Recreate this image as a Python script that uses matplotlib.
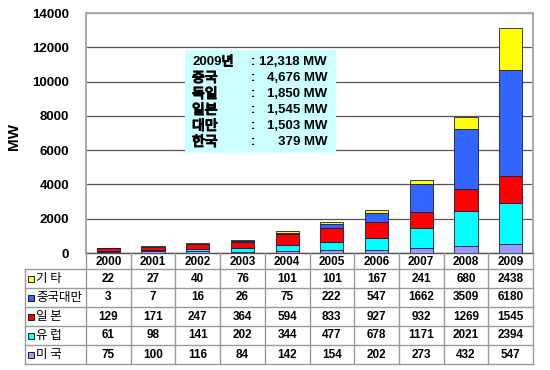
import matplotlib
matplotlib.use("Agg")
import matplotlib.pyplot as plt
import matplotlib.patheffects as pe
from matplotlib.lines import Line2D
from matplotlib.patches import Rectangle
from matplotlib.transforms import blended_transform_factory
import numpy as np

plt.rcParams['font.family'] = ['Liberation Sans', 'Noto Sans CJK KR', 'DejaVu Sans']

years = ['2000', '2001', '2002', '2003', '2004', '2005', '2006', '2007', '2008', '2009']
# stacking order: bottom -> top
series_names = ['미 국', '유 럽', '일 본', '중국대만', '기 타']
usa = [75, 100, 116, 84, 142, 154, 202, 273, 432, 547]
europe = [61, 98, 141, 202, 344, 477, 678, 1171, 2021, 2394]
japan = [129, 171, 247, 364, 594, 833, 927, 932, 1269, 1545]
china_taiwan = [3, 7, 16, 26, 75, 222, 547, 1662, 3509, 6180]
others = [22, 27, 40, 76, 101, 101, 167, 241, 680, 2438]
series_values = [usa, europe, japan, china_taiwan, others]
series_colors = ['#9999FF', '#00FFFF', '#FF0000', '#3366FF', '#FFFF00']

box_year = '2009'
box_labels = ['중국', '독일', '일본', '대만', '한국']
box_values = ['12,318', '4,676', '1,850', '1,545', '1,503', '379']

W, H = 550, 370
fig = plt.figure(figsize=(W / 100, H / 100), dpi=100)
fx = lambda px: px / W
fy = lambda py: 1 - py / H

ax = fig.add_axes([fx(86), fy(253), fx(533) - fx(86), fy(13) - fy(253)])
x = np.arange(len(years))
bottom = np.zeros(len(years))
for vals, col in zip(series_values, series_colors):
    ax.bar(x, vals, width=0.52, bottom=bottom, color=col, edgecolor='#1a1a40',
           linewidth=0.6, zorder=3)
    bottom += np.array(vals)

ax.set_xlim(-0.5, len(years) - 0.5)
ax.set_ylim(0, 14000)
ax.set_yticks(np.arange(0, 14001, 2000))
ax.set_yticklabels([str(v) for v in range(0, 14001, 2000)], fontsize=9.5, fontweight='bold')
ax.tick_params(axis='y', length=0, pad=12)
ax.set_xticks([])
ax.set_axisbelow(True)
ax.yaxis.grid(True, color='#555555', linewidth=0.9)
for s in ['left', 'right', 'top']:
    ax.spines[s].set_color('#A8A8A8')
    ax.spines[s].set_linewidth(1.4)
ax.spines['bottom'].set_color('#555555')
ax.spines['bottom'].set_linewidth(1.0)

fig.text(fx(14), fy(136), 'MW', rotation=90, fontsize=11, fontweight='bold',
         ha='center', va='center')

# annotation box
ax.add_patch(Rectangle((fx(185), fy(153)), fx(336) - fx(185), fy(50) - fy(153),
                       transform=fig.transFigure, facecolor='#CCFFFF',
                       edgecolor='none', zorder=4, clip_on=False))
row_y = [62, 78, 94, 110, 126, 142]
ko_font = ['Noto Sans CJK KR', 'DejaVu Sans']
bold_fx = [pe.withStroke(linewidth=0.9, foreground='black')]
# first row: year + 년
t = fig.text(fx(192), fy(row_y[0]), box_year, fontsize=9.5, fontweight='bold',
             ha='left', va='center', zorder=5)
fig.canvas.draw()
bb = t.get_window_extent()
fig.text(bb.x1 / W, fy(row_y[0]), '년', fontsize=9.5, family=ko_font,
         ha='left', va='center', zorder=5, path_effects=bold_fx)
for lab, yy in zip(box_labels, row_y[1:]):
    fig.text(fx(192), fy(yy), lab, fontsize=10, family=ko_font,
             ha='left', va='center', zorder=5, path_effects=bold_fx)
for val, yy in zip(box_values, row_y):
    fig.text(fx(251), fy(yy), ':', fontsize=9.5, fontweight='bold', ha='left',
             va='center', zorder=5)
    fig.text(fx(327), fy(yy), val + ' MW', fontsize=9.5, fontweight='bold',
             ha='right', va='center', zorder=5)

# data table below the chart
trans = blended_transform_factory(ax.transData, fig.transFigure)
line_col = '#9A9A9A'
head_top, head_bot = 253, 269
row_h = 19
n_rows = len(series_names)
table_bot = head_bot + n_rows * row_h
left_px = 25

for i, yr in enumerate(years):
    fig.text(x[i], fy((head_top + head_bot) / 2 + 1), yr, transform=trans,
             fontsize=8.5, fontweight='bold', ha='center', va='center')

# vertical lines at category boundaries
for b in np.arange(-0.5, len(years), 1.0):
    fig.add_artist(Line2D([b, b], [fy(head_top), fy(table_bot)], transform=trans,
                          color=line_col, linewidth=1.0))
fig.add_artist(Line2D([fx(left_px), fx(left_px)], [fy(head_bot), fy(table_bot)],
                      transform=fig.transFigure, color=line_col, linewidth=1.0))
# horizontal lines
for r in range(n_rows + 1):
    yy = head_bot + r * row_h
    fig.add_artist(Line2D([fx(left_px), fx(533)], [fy(yy), fy(yy)],
                          transform=fig.transFigure, color=line_col, linewidth=1.0))

# rows: top row is the top series
for r, idx in enumerate(range(n_rows - 1, -1, -1)):
    cy = head_bot + r * row_h + row_h / 2
    fig.add_artist(Rectangle((fx(28), fy(cy + 3)), fx(6), fy(0) - fy(6),
                             transform=fig.transFigure, facecolor=series_colors[idx],
                             edgecolor='black', linewidth=0.6))
    fig.text(fx(36), fy(cy), series_names[idx], fontsize=9, ha='left', va='center',
             family=ko_font)
    for i, v in enumerate(series_values[idx]):
        fig.text(x[i], fy(cy), str(v), transform=trans, fontsize=8.5,
                 fontweight='bold', ha='center', va='center')

fig.savefig('out.png', dpi=100)
